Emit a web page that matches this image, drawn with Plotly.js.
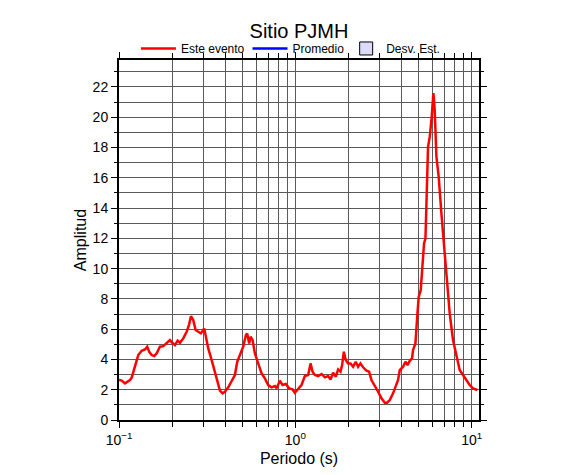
<!DOCTYPE html>
<html>
<head>
<meta charset="utf-8">
<script src="https://cdn.plot.ly/plotly-3.0.1.min.js"></script>
<style>html,body{margin:0;padding:0;background:#fff;}#chart{width:586px;height:475px;}</style>
</head>
<body>
<div id="chart"></div>
<script>
// Period (s)
const periodo = [0.100,0.1036,0.1081,0.1154,0.1180,0.1232,0.1286,0.1345,0.1404,0.1446,
0.1485,0.1532,0.1585,0.1635,0.1707,0.1782,0.1864,0.1945,0.2004,0.2076,
0.2150,0.2216,0.2314,0.2419,0.2493,0.2558,0.2636,0.2720,0.2814,0.2915,
0.3044,0.3100,0.3207,0.3353,0.3468,0.3607,0.3736,0.3870,0.3989,0.4163,
0.4351,0.4542,0.4682,0.4893,0.5062,0.5243,0.5333,0.5474,0.5576,0.5723,
0.5897,0.6157,0.6436,0.6719,0.7015,0.7333,0.7655,0.7826,0.8170,0.8461,
0.8834,0.9224,0.9641,0.9935,1.037,1.084,1.132,1.182,1.220,1.252,
1.290,1.347,1.408,1.470,1.534,1.583,1.637,1.696,1.748,1.804,
1.842,1.883,1.932,1.992,2.055,2.126,2.202,2.269,2.341,2.422,
2.532,2.619,2.702,2.821,2.945,3.079,3.215,3.313,3.432,3.583,
3.746,3.824,3.910,4.082,4.212,4.323,4.455,4.591,4.650,4.797,
4.925,5.009,5.141,5.230,5.368,5.468,5.560,5.656,5.781,5.912,
6.067,6.171,6.310,6.501,6.734,7.031,7.283,7.506,7.836,8.191,
8.551,8.927,9.333,9.743,10.17,10.77];
// Amplitude, "Este evento"
const esteEvento = [2.64,2.60,2.42,2.64,2.80,3.63,4.29,4.57,4.66,4.84,
4.50,4.29,4.22,4.40,4.84,4.88,5.10,5.28,5.10,4.95,
5.24,5.10,5.39,5.83,6.27,6.86,6.60,5.94,5.83,5.72,
6.05,5.50,4.73,3.96,3.35,2.64,1.94,1.76,1.87,2.16,
2.53,2.97,3.85,4.44,4.84,5.61,5.72,5.06,5.50,5.28,
4.40,3.74,3.08,2.75,2.31,2.16,2.24,2.09,2.60,2.31,
2.38,2.09,2.02,1.80,2.02,2.31,2.90,2.97,3.74,3.19,
2.97,2.90,3.04,2.82,2.90,2.68,3.12,2.86,3.34,3.19,
3.63,4.51,3.96,3.74,3.74,3.52,3.85,3.52,3.74,3.48,
3.26,3.19,2.64,2.20,1.87,1.43,1.14,1.14,1.32,1.76,
2.31,2.64,3.30,3.52,3.85,3.63,3.91,4.07,4.62,5.06,
7.04,8.14,8.58,10.12,11.66,11.99,15.84,18.04,18.70,19.80,
21.60,20.46,17.38,16.06,13.64,10.78,8.80,7.04,5.28,4.18,
3.30,2.97,2.64,2.31,2.09,1.98];

const xTickVals = [0.1, 1, 10];
const xTickText = ['10<sup>\u22121</sup>', '10<sup>0</sup>', '10<sup>1</sup>'];
const legendNames = ['Este evento', 'Promedio', 'Desv. Est.'];

const minorX = [];
[0.1, 1, 10].forEach(d => { for (let k = 2; k <= 9; k++) minorX.push(d * k); });

const FONT = 'Liberation Sans, Arial, Helvetica, sans-serif';
const gridC = '#5a5a5a';

const traces = [
  {x: periodo, y: esteEvento, type: 'scatter', mode: 'lines', name: legendNames[0],
   line: {color: '#ff0000', width: 2.5}, legend: 'legend'},
  {x: [null], y: [null], type: 'scatter', mode: 'lines', name: legendNames[1],
   line: {color: '#0000ff', width: 2.5}, legend: 'legend2'},
  {x: [null], y: [null], type: 'scatter', mode: 'markers', name: legendNames[2],
   marker: {symbol: 'square', size: 13, color: '#dcdcf8', line: {color: '#000', width: 1}}, legend: 'legend3'}
];

function leg(x, iw) {
  return {orientation: 'h', x: x, xanchor: 'left', y: 1.032, yanchor: 'middle', itemwidth: iw,
          font: {family: FONT, size: 12, color: '#000'}, bgcolor: 'rgba(0,0,0,0)'};
}

const layout = {
  width: 586, height: 475,
  margin: {l: 119, r: 107, t: 60, b: 55},
  paper_bgcolor: '#fff', plot_bgcolor: '#fff',
  font: {family: FONT, color: '#000', size: 14},
  title: {text: 'Sitio PJMH', font: {family: FONT, size: 20, color: '#000'},
          x: 0.5, xref: 'paper', xanchor: 'center', y: (475 - 31) / 475, yref: 'container', yanchor: 'middle'},
  showlegend: true,
  legend: leg(0.047, 35),
  legend2: leg(0.357, 35),
  legend3: leg(0.631, 30),
  xaxis: {
    type: 'log', range: [-1, 1.0415],
    title: {text: 'Periodo (s)', font: {family: FONT, size: 16}, standoff: 6},
    tickmode: 'array', tickvals: xTickVals, ticktext: xTickText,
    ticks: 'outside', ticklen: 6, tickwidth: 1, tickcolor: '#000',
    showgrid: true, gridcolor: gridC, gridwidth: 1,
    showline: true, linecolor: '#000', linewidth: 2, mirror: 'allticks',
    zeroline: false, tickfont: {family: FONT, size: 14},
    minor: {tickmode: 'array', tickvals: minorX, ticks: 'outside', ticklen: 5, tickcolor: '#000',
            showgrid: true, gridcolor: gridC, gridwidth: 1}
  },
  yaxis: {
    range: [0, 23.78],
    title: {text: 'Amplitud', font: {family: FONT, size: 16}, standoff: 2},
    tickmode: 'linear', tick0: 0, dtick: 2,
    ticks: 'outside', ticklen: 6, tickwidth: 1, tickcolor: '#000',
    showgrid: true, gridcolor: gridC, gridwidth: 1,
    showline: true, linecolor: '#000', linewidth: 2, mirror: 'allticks',
    zeroline: false, tickfont: {family: FONT, size: 14},
    minor: {tick0: 0, dtick: 1, ticks: 'outside', ticklen: 3, tickcolor: '#000',
            showgrid: true, gridcolor: gridC, gridwidth: 1}
  }
};

Plotly.newPlot('chart', traces, layout, {displayModeBar: false, staticPlot: true});
</script>
</body>
</html>
